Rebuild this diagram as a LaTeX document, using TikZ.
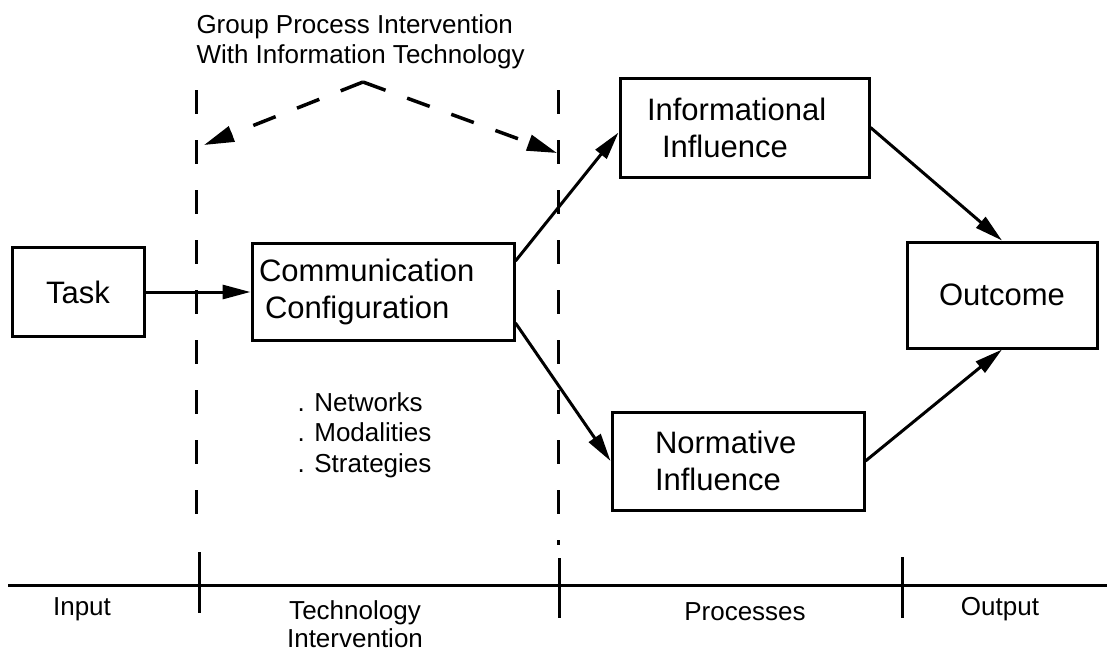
\documentclass[tikz,border=0pt]{standalone}
\usepackage{fontspec}
\setmainfont{Liberation Sans}
\usetikzlibrary{arrows.meta}

\begin{document}
\begin{tikzpicture}[x=1pt, y=-1pt, line width=3pt,
	>={Triangle[length=28pt, width=14pt]},
	blk/.style={draw, inner ysep=0pt, align=left, font=\fontsize{31}{37}\selectfont},
	lbl/.style={inner sep=0pt, font=\fontsize{26}{30.5}\selectfont},
	sep/.style={dash pattern=on 24pt off 26pt},
	hint/.style={line width=3.5pt, dash pattern=on 24pt off 23pt, -{Triangle[length=30pt, width=16pt]}}]
	\useasboundingbox (0,0) rectangle (1107,653);
	% the five blocks
	\node[blk, align=center, minimum width=132pt, minimum height=89pt] (task) at (78,292) {Task};
	\node[blk, text width=248pt, inner xsep=7pt, minimum height=97pt] (comm) at (383,292) {Communication\\\hspace*{6pt}Configuration};
	\node[blk, text width=195pt, inner xsep=27pt, minimum height=99pt] (info) at (744.5,127.5) {Informational\\\hspace*{15pt}Influence};
	\node[blk, text width=166pt, inner xsep=43pt, minimum height=98pt] (norm) at (738,461) {Normative\\Influence};
	\node[blk, align=center, minimum width=190pt, minimum height=106pt] (outc) at (1002,295) {Outcome};
	\draw[->] (task) -- (comm);
	\draw[->] ([yshift=31pt]comm.east) -- ([yshift=-5pt]info.west);
	\draw[->] ([yshift=-31pt]comm.east) -- (norm.west);
	\draw[->] (info.east) -- (outc.north);
	\draw[->] (norm.east) -- (outc.south);
	% stage borders
	\draw[sep] (196,90) -- (196,514);
	\draw[sep] (558,90) -- (558,545);
	\coordinate (peak) at (363,82);
	\coordinate (ltip) at (204,145);
	\coordinate (rtip) at (557,153);
	\draw[hint] (peak) -- (ltip);
	\draw[hint] (peak) -- (rtip);
	\node[lbl, anchor=north west, align=left] (title) at (195,13) {Group Process Intervention\\With Information Technology};
	\node[lbl, anchor=north west, align=left] (means) at (296,391) {. Networks\\. Modalities\\. Strategies};
	% time line
	\draw (8,585) -- (1107,585);
	\draw (199,552) -- (199,613);
	\draw (559,558) -- (559,618);
	\draw (902,557) -- (902,618);
	\node[lbl, anchor=base] (input) at (82,615) {Input};
	\node[lbl, anchor=north, align=center, font=\fontsize{26}{28}\selectfont] (tech) at (355,599) {Technology\\Intervention};
	\node[lbl, anchor=base] (proc) at (745,620) {Processes};
	\node[lbl, anchor=base] (outp) at (1000,615) {Output};
\end{tikzpicture}
\end{document}
